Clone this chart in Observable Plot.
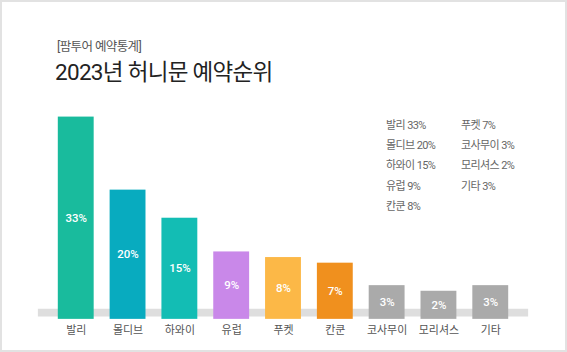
<!DOCTYPE html>
<html>
<head>
<meta charset="utf-8">
<script src="https://cdn.jsdelivr.net/npm/d3@7"></script>
<script src="https://cdn.jsdelivr.net/npm/@observablehq/plot@0.6"></script>
<style>
  html, body { margin: 0; padding: 0; background: #fff; }
  #card { position: relative; width: 567px; height: 352px; box-sizing: border-box; border: 2px solid #e2e2e2; overflow: hidden;
          font-family: Roboto, "Noto Sans CJK KR", sans-serif; }
  #chart { position: absolute; left: -2px; top: -2px; }
  .sub { position: absolute; left: 55px; top: 34px; font-size: 12.5px; color: #555; letter-spacing: -0.6px; }
  .title { position: absolute; left: 53px; top: 52px; font-size: 22.5px; color: #222; letter-spacing: -0.7px; }
  .legend { position: absolute; top: 114px; font-size: 11px; color: #666; letter-spacing: -0.6px; line-height: 20.2px; }
</style>
</head>
<body>
<div id="card">
  <div id="chart"></div>
  <div class="sub">[팜투어 예약통계]</div>
  <div class="title">2023년 허니문 예약순위</div>
  <div class="legend" id="leg1" style="left:384px"></div>
  <div class="legend" id="leg2" style="left:459px"></div>
</div>
<script>
// Bar data
const categories = ["발리", "몰디브", "하와이", "유럽", "푸켓", "칸쿤", "코사무이", "모리셔스", "기타"];
const values = [33, 20, 15, 9, 8, 7, 3, 2, 3];
const colors = ["#19bb9d", "#08abbf", "#13bdb4", "#c988e9", "#fcb847", "#f0901e", "#aaaaaa", "#aaaaaa", "#aaaaaa"];

// Legend text (as printed in the reference)
const legendCol1 = ["발리", "몰디브", "하와이", "유럽", "칸쿤"];
const legendCol1Values = [33, 20, 15, 9, 8];
const legendCol2 = ["푸켓", "코사무이", "모리셔스", "기타"];
const legendCol2Values = [7, 3, 2, 3];

const baseOffset = -3; // bars start below the baseline band

const data = categories.map((c, i) => ({name: c, value: values[i], color: colors[i]}));

document.getElementById("leg1").innerHTML = legendCol1.map((c, i) => `${c} ${legendCol1Values[i]}%`).join("<br>");
document.getElementById("leg2").innerHTML = legendCol2.map((c, i) => `${c} ${legendCol2Values[i]}%`).join("<br>");

const plot = Plot.plot({
  width: 567,
  height: 352,
  marginLeft: 38,
  marginRight: 37,
  marginTop: 117,
  marginBottom: 32,
  style: {fontFamily: 'Roboto, "Noto Sans CJK KR", sans-serif', background: "transparent", overflow: "visible"},
  x: {domain: categories, paddingInner: 0.3, paddingOuter: 0.34, label: null},
  y: {domain: [baseOffset, 33], axis: null},
  marks: [
    Plot.ruleY([baseOffset * 0.6], {stroke: "#dedede", strokeWidth: 8}),
    Plot.barY(data, {x: "name", y1: baseOffset, y2: "value", fill: "color"}),
    Plot.text(data, {x: "name", y: d => (d.value + baseOffset) / 2, text: d => d.value + "%", fill: "white", fontSize: 11.5, fontWeight: 500}),
    Plot.axisX({tickSize: 0, tickPadding: 7, fontSize: 11, color: "#555", label: null})
  ]
});
document.getElementById("chart").appendChild(plot);
</script>
</body>
</html>
